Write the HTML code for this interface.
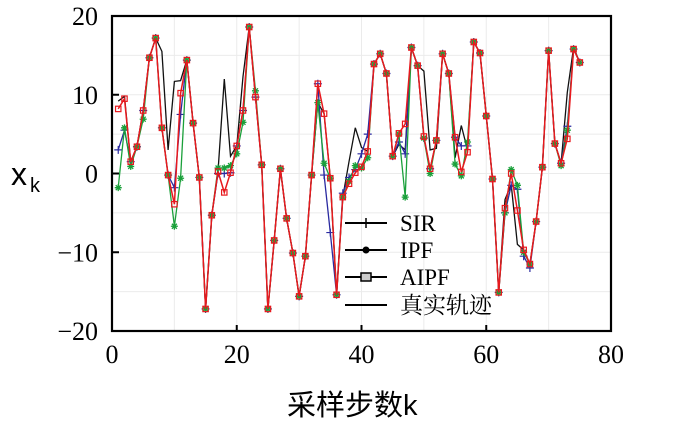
<!DOCTYPE html>
<html><head><meta charset="utf-8"><style>
html,body{margin:0;padding:0;background:#fff;}
svg{display:block}
</style></head><body>
<svg id="s" width="700" height="425" xmlns="http://www.w3.org/2000/svg"></svg>
<script>
var X0=112,X1=611,Y0=16,Y1=331;
function px(k){return X0+k*(X1-X0)/80;}
function py(v){return Y1-(v+20)*(Y1-Y0)/40;}
var red=[8.2,9.5,1.5,3.4,8.0,14.7,17.2,5.8,-0.2,-3.9,10.2,14.4,6.4,-0.5,-17.2,-5.3,0.25,-2.4,0.1,3.5,8,18.6,9.7,1.1,-17.2,-8.5,0.6,-5.7,-10.1,-15.6,-10.5,-0.2,11.4,7.6,-0.6,-15.4,-3.0,-1.3,0.1,0.85,2.8,13.9,15.2,12.7,2.2,5.1,6.3,16.0,13.7,4.7,0.6,4.2,15.2,12.7,4.6,0.2,2.7,16.7,15.3,7.3,-0.7,-15.1,-4.4,0,-4.7,-9.7,-11.5,-6.1,0.8,15.6,3.8,1.3,4.4,15.8,14.1];
var truth=red.slice(),blue=red.slice(),green=red.slice();
var tmod={0:9.2,1:9.8,7:15.5,8:3,9:11.7,10:11.8,17:12,18:2.2,20:12.3,32:9,37:1.5,38:5.8,39:3.3,45:3.7,46:3,49:13,50:3,51:3.2,54:2,55:6.1,56:3,62:-3.3,63:-1.4,64:-9,72:10.3,73:16};
for(var i in tmod)truth[i]=tmod[i];
var bmod={0:3,1:5.5,9:-1.8,10:7.5,16:0,17:0,33:-0.2,34:-7.5,36:-2.5,37:-0.5,38:0.5,39:2.5,40:5,45:4,46:2.5,49:4.5,55:3.5,56:3.5,62:-5,63:-1.5,64:-2,65:-10.5,66:-12,72:6};
for(var i in bmod)blue[i]=bmod[i];
var gmod={0:-1.8,1:5.8,2:0.9,4:6.9,9:-6.7,10:-0.6,16:0.7,17:0.7,18:1,19:2.5,20:6.5,22:10.5,32:9,33:1.3,37:-1,38:1,39:0.7,40:2,45:5,46:-3,49:4.5,50:0,54:1.2,55:-0.3,56:4,62:-5,63:0.5,64:-1.5,65:-10,71:1,72:5.5};
for(var i in gmod)green[i]=gmod[i];
var h='';
for(var k=10;k<80;k+=10)h+='<line x1="'+px(k)+'" y1="'+Y0+'" x2="'+px(k)+'" y2="'+Y1+'" stroke="#ebebeb" stroke-width="1"/>';
for(var v=-15;v<20;v+=5)h+='<line x1="'+X0+'" y1="'+py(v)+'" x2="'+X1+'" y2="'+py(v)+'" stroke="#ebebeb" stroke-width="1"/>';
function pts(a){return a.map(function(v,i){return px(i+1).toFixed(1)+','+py(v).toFixed(1)}).join(' ');}
h+='<polyline points="'+pts(truth)+'" fill="none" stroke="#111" stroke-width="1.3"/>';
h+='<polyline points="'+pts(blue)+'" fill="none" stroke="#2a2aa0" stroke-width="1.3"/>';
blue.forEach(function(v,i){var x=px(i+1),y=py(v);h+='<path d="M'+(x-4)+' '+y+'H'+(x+4)+'M'+x+' '+(y-4)+'V'+(y+4)+'" stroke="#2a2aa0" stroke-width="1.2"/>';});
h+='<polyline points="'+pts(green)+'" fill="none" stroke="#1aa03a" stroke-width="1.3"/>';
green.forEach(function(v,i){var x=px(i+1),y=py(v);h+='<path d="M'+(x-3.5)+' '+y+'H'+(x+3.5)+'M'+x+' '+(y-3.5)+'V'+(y+3.5)+'M'+(x-2.5)+' '+(y-2.5)+'L'+(x+2.5)+' '+(y+2.5)+'M'+(x-2.5)+' '+(y+2.5)+'L'+(x+2.5)+' '+(y-2.5)+'" stroke="#1aa03a" stroke-width="1.3"/>';});
h+='<polyline points="'+pts(red)+'" fill="none" stroke="#e8191e" stroke-width="1.5"/>';
red.forEach(function(v,i){var x=px(i+1),y=py(v);h+='<rect x="'+(x-2.7)+'" y="'+(y-2.7)+'" width="5.4" height="5.4" fill="none" stroke="#e8191e" stroke-width="1.2"/>';});
h+='<rect x="'+X0+'" y="'+Y0+'" width="'+(X1-X0)+'" height="'+(Y1-Y0)+'" fill="none" stroke="#000" stroke-width="2.2"/>';
[20,40,60].forEach(function(k){h+='<line x1="'+px(k)+'" y1="'+Y1+'" x2="'+px(k)+'" y2="'+(Y1-6)+'" stroke="#000" stroke-width="2"/>';});
[10,0,-10].forEach(function(v){h+='<line x1="'+X0+'" y1="'+py(v)+'" x2="'+(X0+7)+'" y2="'+py(v)+'" stroke="#000" stroke-width="2"/>';});
var f='style="font-family:\'Liberation Serif\',serif;font-size:26px"';
[20,10,0,-10,-20].forEach(function(v){h+='<text x="98" y="'+(py(v)+9)+'" text-anchor="end" '+f+'>'+(v<0?'\u2212'+(-v):v)+'</text>';});
[0,20,40,60,80].forEach(function(k){h+='<text x="'+px(k)+'" y="363" text-anchor="middle" '+f+'>'+k+'</text>';});
h+='<text x="11" y="185" style="font-family:\'Liberation Sans\',sans-serif;font-size:32px">x</text><text x="30" y="192" style="font-family:\'Liberation Sans\',sans-serif;font-size:20px">k</text>';
h+='<text x="287" y="415" style="font-family:\'Liberation Sans\',\'Noto Sans CJK SC\',sans-serif;font-size:29px">采样步数k</text>';
var ly=[223,250,277,305],lab=['SIR','IPF','AIPF','真实轨迹'];
ly.forEach(function(y,i){h+='<line x1="345" y1="'+y+'" x2="387" y2="'+y+'" stroke="#000" stroke-width="2"/>';
 if(i==0)h+='<line x1="366" y1="'+(y-5)+'" x2="366" y2="'+(y+5)+'" stroke="#000" stroke-width="1.5"/>';
 if(i==1)h+='<circle cx="366" cy="'+y+'" r="3.5" fill="#000"/>';
 if(i==2)h+='<rect x="361" y="'+(y-4)+'" width="10" height="8" fill="#ccc" stroke="#000" stroke-width="1.5"/>';
 h+='<text x="400" y="'+(y+8)+'" style="font-family:\'Liberation Serif\',\'Noto Serif CJK SC\',serif;font-size:23px">'+lab[i]+'</text>';});
document.getElementById('s').innerHTML=h;
</script>
</body></html>
